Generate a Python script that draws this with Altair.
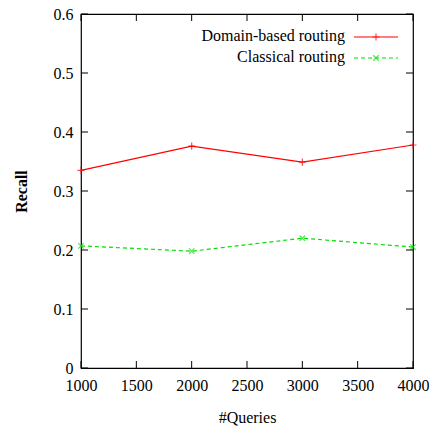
import altair as alt
import pandas as pd

queries = [1000, 2000, 3000, 4000]
domain_based = [0.335, 0.376, 0.349, 0.378]
classical = [0.207, 0.198, 0.220, 0.205]
series_names = ["Domain-based routing", "Classical routing"]
x_ticks = [1000, 1500, 2000, 2500, 3000, 3500, 4000]
y_ticks = [0, 0.1, 0.2, 0.3, 0.4, 0.5, 0.6]

W, H = 332, 354
FONT = "Liberation Serif"

df = pd.DataFrame({
    "queries": queries * 2,
    "recall": domain_based + classical,
    "series": [series_names[0]] * 4 + [series_names[1]] * 4,
})

xs = alt.Scale(domain=[1000, 4000], nice=False)
ys = alt.Scale(domain=[0, 0.6], nice=False)

x_axis = alt.Axis(values=x_ticks, format="d", title="#Queries",
                  titlePadding=16, labelPadding=9)
y_axis = alt.Axis(values=y_ticks, format="~g", title="Recall",
                  titleFontWeight="bold", titlePadding=24, labelPadding=8)

plus_path = "M-1,0L1,0M0,-1L0,1"
x_path = "M-1,-1L1,1M-1,1L1,-1"

red = "#ff0000"
green = "#00e000"

d1 = df[df.series == series_names[0]]
d2 = df[df.series == series_names[1]]

X = alt.X("queries:Q", scale=xs, axis=x_axis)
Y = alt.Y("recall:Q", scale=ys, axis=y_axis)

line1 = alt.Chart(d1).mark_line(color=red, strokeWidth=1.2).encode(x=X, y=Y)
pts1 = alt.Chart(d1).mark_point(shape=plus_path, color=red, filled=False, size=50, strokeWidth=1.2).encode(x=X, y=Y)
line2 = alt.Chart(d2).mark_line(color=green, strokeWidth=1.2, strokeDash=[4, 3]).encode(x=X, y=Y)
pts2 = alt.Chart(d2).mark_point(shape=x_path, color=green, filled=False, size=30, strokeWidth=1.2).encode(x=X, y=Y)

TL = 7
xt = pd.DataFrame({"queries": x_ticks})
yt = pd.DataFrame({"recall": y_ticks})
tick_b = alt.Chart(xt).mark_rule(color="black", strokeWidth=1).encode(
    x=X, y=alt.value(H), y2=alt.value(H - TL))
tick_t = alt.Chart(xt).mark_rule(color="black", strokeWidth=1).encode(
    x=X, y=alt.value(0), y2=alt.value(TL))
tick_l = alt.Chart(yt).mark_rule(color="black", strokeWidth=1).encode(
    y=Y, x=alt.value(0), x2=alt.value(TL))
tick_r = alt.Chart(yt).mark_rule(color="black", strokeWidth=1).encode(
    y=Y, x=alt.value(W), x2=alt.value(W - TL))

# custom legend (symbol on the right of label, gnuplot style)
leg = pd.DataFrame({"name": series_names})
l1 = leg[leg.name == series_names[0]]
l2 = leg[leg.name == series_names[1]]
leg_text1 = alt.Chart(l1).mark_text(
    align="right", baseline="middle", font=FONT, fontSize=16, color="black").encode(
    text="name:N", x=alt.value(264), y=alt.value(22))
leg_text2 = alt.Chart(l2).mark_text(
    align="right", baseline="middle", font=FONT, fontSize=16, color="black").encode(
    text="name:N", x=alt.value(264), y=alt.value(43))
leg_line1 = alt.Chart(l1).mark_rule(color=red, strokeWidth=1.2).encode(
    x=alt.value(273), x2=alt.value(317), y=alt.value(23))
leg_pt1 = alt.Chart(l1).mark_point(
    shape=plus_path, color=red, filled=False, size=50, strokeWidth=1.2).encode(
    x=alt.value(295), y=alt.value(23))
leg_line2 = alt.Chart(l2).mark_rule(
    color=green, strokeWidth=1.2, strokeDash=[4, 3]).encode(
    x=alt.value(273), x2=alt.value(317), y=alt.value(44))
leg_pt2 = alt.Chart(l2).mark_point(
    shape=x_path, color=green, filled=False, size=30, strokeWidth=1.2).encode(
    x=alt.value(295), y=alt.value(44))

chart = alt.layer(
    line1, line2, pts1, pts2,
    tick_b, tick_t, tick_l, tick_r,
    leg_text1, leg_text2, leg_line1, leg_pt1, leg_line2, leg_pt2,
).properties(
    width=W, height=H,
    background="white",
    autosize=alt.AutoSizeParams(type="none"),
    padding={"left": 73, "top": 6, "right": 16, "bottom": 60},
).configure_view(
    stroke="black", strokeWidth=1.2
).configure_axis(
    ticks=False, grid=False, domain=False, labelFlush=False,
    labelFont=FONT, labelFontSize=16, labelColor="black",
    titleFont=FONT, titleFontSize=16, titleColor="black",
    titleFontWeight="normal",
)

chart.save("out.html", embed_options={"renderer": "svg", "actions": False})
